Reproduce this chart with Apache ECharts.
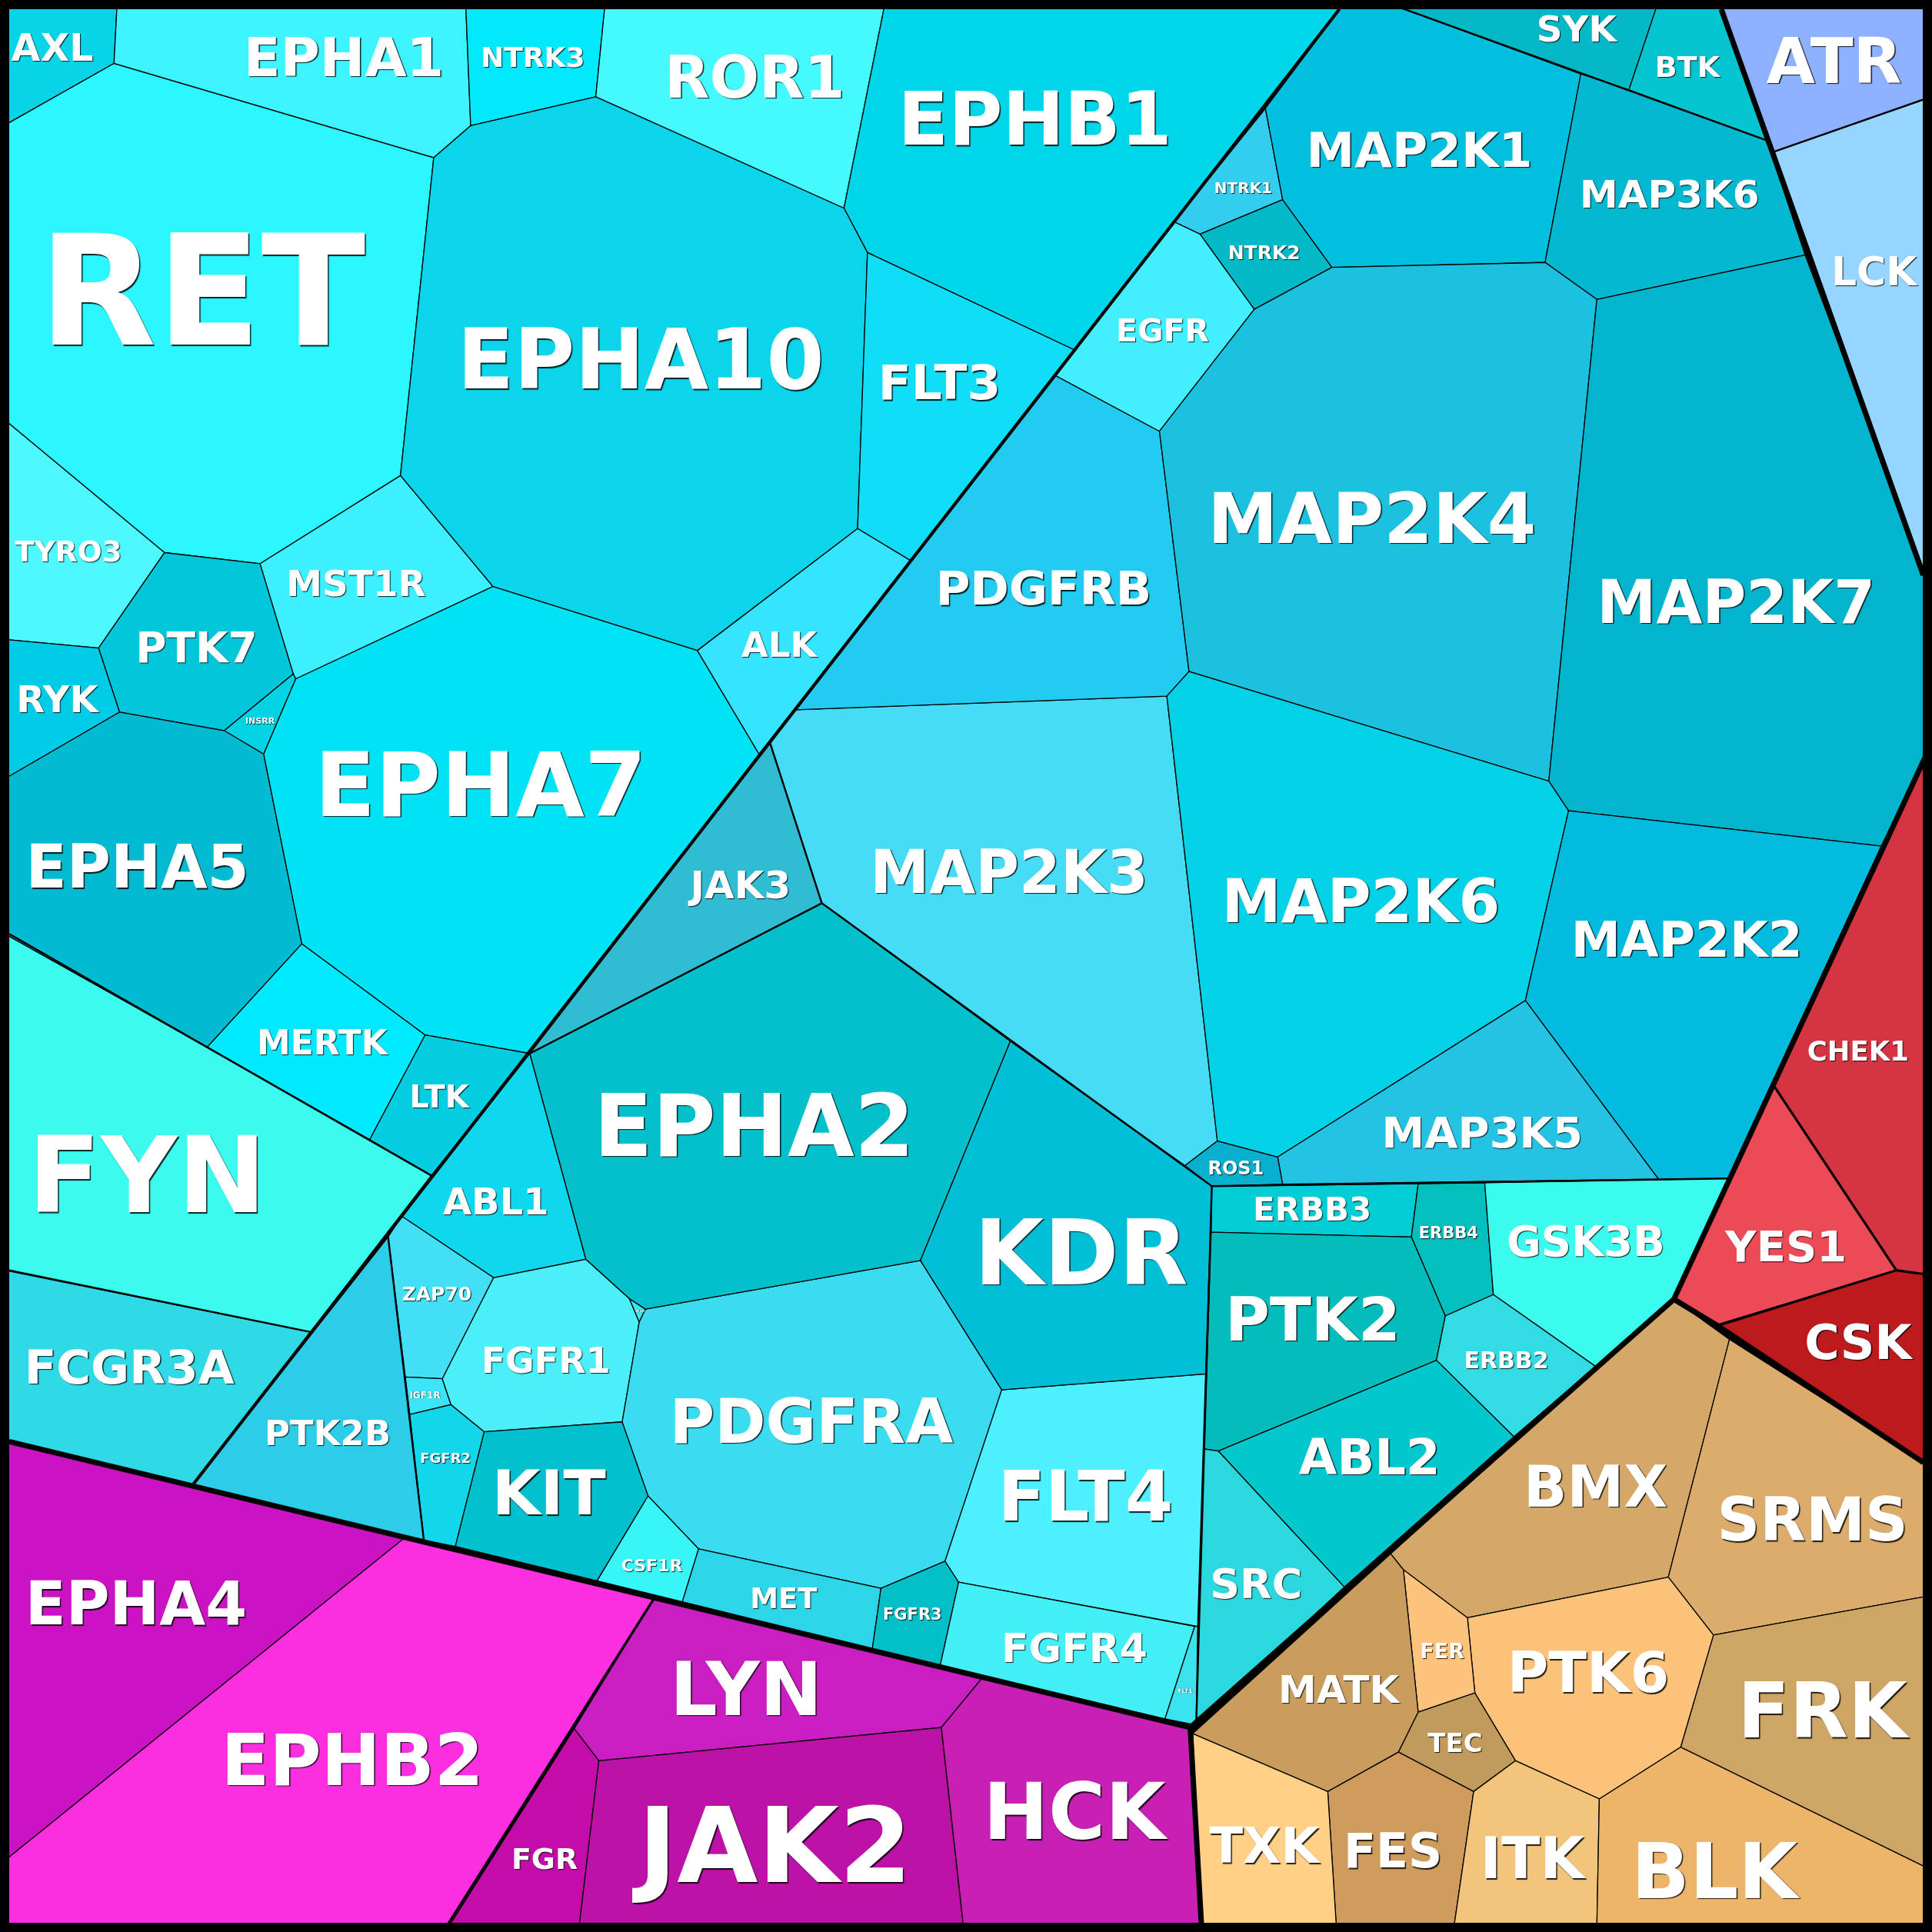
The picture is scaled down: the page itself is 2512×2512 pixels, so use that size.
<!DOCTYPE html>
<html>
<head>
<meta charset="utf-8">
<style>html,body{margin:0;padding:0;background:#000}#chart{width:2512px;height:2512px}</style>
<script src="https://cdn.jsdelivr.net/npm/echarts@6/dist/echarts.min.js"></script>
</head>
<body>
<div id="chart"></div>
<script>
// Cell outlines, in the plot's own 0..1568 data units.
const cellPolygons = [
 ['AXL',[[4,4],[95,4],[92.5,51.5],[4,101.5]]],
 ['EPHA1',[[95,4],[378,4],[382,102],[352,128],[92.5,51.5]]],
 ['NTRK3',[[378,4],[491,4],[483.5,78.6],[382,102]]],
 ['ROR1',[[491,4],[718,4],[685,169],[483.5,78.6]]],
 ['EPHB1',[[718,4],[1090,4],[872,284],[704,205],[685,169]]],
 ['RET',[[4,101.5],[92.5,51.5],[352,128],[325,386],[211,457.5],[133.5,448.5],[4,341]]],
 ['EPHA10',[[352,128],[382,102],[483.5,78.6],[685,169],[704,205],[696,429],[566,528],[400,476],[325,386]]],
 ['FLT3',[[704,205],[872,284],[739,455],[696,429]]],
 ['MST1R',[[211,457.5],[325,386],[400,476],[240,551],[238,547]]],
 ['TYRO3',[[4,341],[133.5,448.5],[80,526],[4,519]]],
 ['PTK7',[[133.5,448.5],[211,457.5],[238,547],[182,593],[97,578],[80,526]]],
 ['INSRR',[[238,547],[240,551],[214,612],[182,593]]],
 ['RYK',[[4,519],[80,526],[97,578],[4,632]]],
 ['EPHA5',[[4,632],[97,578],[182,593],[214,612],[245,766],[168,850],[4,758]]],
 ['EPHA7',[[240,551],[400,476],[566,528],[616,612],[430,855],[345,840],[245,766],[214,612]]],
 ['ALK',[[566,528],[696,429],[739,455],[616,612]]],
 ['MERTK',[[245,766],[345,840],[300,925],[168,850]]],
 ['LTK',[[345,840],[430,855],[350,954],[300,925]]],
 ['FYN',[[4,758],[168,850],[300,925],[350,954],[252,1081],[4,1031]]],
 ['FCGR3A',[[4,1031],[252,1081],[156.5,1205],[4,1168]]],
 ['PTK2B',[[315,1004],[344,1250],[156.5,1205]]],
 ['ABL1',[[430,855],[475.5,1022],[400.6,1037],[326,987]]],
 ['ZAP70',[[326,987],[400.6,1037],[359,1119],[329,1117.5],[315,1004]]],
 ['IGF1R',[[329,1117.5],[359,1119],[366,1140],[332.6,1148]]],
 ['FGFR2',[[332.6,1148],[366,1140],[393,1162],[369.6,1255],[344,1250]]],
 ['FGFR1',[[400.6,1037],[475.5,1022],[510.8,1054],[518.8,1073],[505,1154],[393,1162],[366,1140],[359,1119]]],
 ['INSR',[[510.8,1054],[523.8,1062.5],[518.8,1073]]],
 ['KIT',[[393,1162],[505,1154],[526,1214],[484.6,1283],[369.6,1255]]],
 ['CSF1R',[[526,1214],[567,1257],[553.8,1300],[484.6,1283]]],
 ['PDGFRA',[[518.8,1073],[523.8,1062.5],[747,1023],[813,1128],[767,1267],[715,1289],[567,1257],[526,1214],[505,1154]]],
 ['MET',[[567,1257],[715,1289],[708,1338],[553.8,1300]]],
 ['FGFR3',[[715,1289],[767,1267],[778,1284],[763,1352],[708,1338]]],
 ['FLT4',[[813,1128],[978.4,1115],[972,1320],[778,1284],[767,1267]]],
 ['FGFR4',[[778,1284],[969.6,1320],[945.5,1395],[763,1352]]],
 ['FLT1',[[969.6,1320],[972,1320],[970.8,1400],[945.5,1395]]],
 ['EPHA2',[[430,855],[667,733],[820,845],[747,1023],[523.8,1062.5],[510.8,1054],[475.5,1022]]],
 ['JAK3',[[625,603],[667,733],[430,855]]],
 ['KDR',[[820,845],[983.5,962.7],[978.4,1115],[813,1128],[747,1023]]],
 ['MAP2K3',[[646,576],[947,565],[988,926],[961.7,946],[820,845],[667,733],[625,603]]],
 ['ROS1',[[988,926],[1037,939],[1041,961],[983.5,962.7],[961.7,946]]],
 ['PDGFRB',[[857,305],[941,350],[965,545],[947,565],[646,576]]],
 ['EGFR',[[953,180],[974,190],[1018,251],[941,350],[857,305]]],
 ['NTRK1',[[1027,88],[1041,162],[974,190],[953,180]]],
 ['NTRK2',[[1041,162],[1081,217],[1018,251],[974,190]]],
 ['MAP2K1',[[1090,4],[1130.4,4],[1283,60],[1254,213],[1081,217],[1041,162],[1027,88]]],
 ['SYK',[[1130.4,4],[1345,4],[1322,73],[1283,60]]],
 ['BTK',[[1345,4],[1397,4],[1434,114],[1322,73]]],
 ['MAP3K6',[[1283,60],[1322,73],[1434,114],[1465,207],[1296,243],[1254,213]]],
 ['MAP2K4',[[1081,217],[1254,213],[1296,243],[1257,634],[965,545],[941,350],[1018,251]]],
 ['MAP2K7',[[1296,243],[1465,207],[1564,470],[1564,612],[1526.8,686.7],[1273,658],[1257,634]]],
 ['MAP2K6',[[947,565],[965,545],[1257,634],[1273,658],[1238,812],[1037,939],[988,926]]],
 ['MAP2K2',[[1273,658],[1526.8,686.7],[1402.4,956.4],[1346,957],[1238,812]]],
 ['MAP3K5',[[1238,812],[1346,957],[1041,961],[1037,939]]],
 ['ATR',[[1397,4],[1564,4],[1564,80],[1440,123]]],
 ['LCK',[[1440,123],[1564,80],[1564,470]]],
 ['CHEK1',[[1564,612],[1564,1034],[1539,1031],[1439.5,881]]],
 ['YES1',[[1439.5,881],[1539,1031],[1394,1075],[1358.5,1054.5]]],
 ['CSK',[[1539,1031],[1564,1034],[1564,1189],[1394,1075]]],
 ['ERBB3',[[983.5,962.7],[1151,960.7],[1145.5,1004],[983,1000]]],
 ['ERBB4',[[1151,960.7],[1205,960],[1212,1050.7],[1173,1068],[1145.5,1004]]],
 ['GSK3B',[[1205,960],[1402.4,956.4],[1358.5,1054.5],[1295,1109],[1212,1050.7]]],
 ['PTK2',[[983,1000],[1145.5,1004],[1173,1068],[1165.8,1104],[988.8,1177.7],[977.3,1176]]],
 ['ERBB2',[[1212,1050.7],[1295,1109],[1228.6,1166],[1165.8,1104],[1173,1068]]],
 ['ABL2',[[988.8,1177.7],[1165.8,1104],[1228.6,1166],[1091,1288]]],
 ['SRC',[[977.3,1176],[988.8,1177.7],[1091,1288],[970.8,1400]]],
 ['BMX',[[1358.5,1054.5],[1403.6,1087],[1354,1280],[1191,1313],[1139,1274],[1128.6,1261]]],
 ['SRMS',[[1403.6,1087],[1564,1189],[1564,1295.5],[1390.6,1327],[1354,1280]]],
 ['FRK',[[1390.6,1327],[1564,1295.5],[1564,1516],[1364,1418]]],
 ['PTK6',[[1191,1313],[1354,1280],[1390.6,1327],[1364,1418],[1298,1460],[1230,1429],[1197,1374]]],
 ['FER',[[1139,1274],[1191,1313],[1197,1374],[1151,1389.6]]],
 ['MATK',[[1128.6,1261],[1139,1274],[1151,1389.6],[1135,1422],[1077.6,1454],[968,1407]]],
 ['TEC',[[1151,1389.6],[1197,1374],[1230,1429],[1196,1454],[1135,1422]]],
 ['FES',[[1135,1422],[1196,1454],[1180,1564],[1084.6,1564],[1077.6,1454]]],
 ['TXK',[[968,1407],[1077.6,1454],[1084.6,1564],[975,1564]]],
 ['ITK',[[1196,1454],[1230,1429],[1298,1460],[1296,1564],[1180,1564]]],
 ['BLK',[[1298,1460],[1364,1418],[1564,1516],[1564,1564],[1296,1564]]],
 ['EPHA4',[[4,1168],[328.5,1248],[4,1510]]],
 ['EPHB2',[[328.5,1248],[531,1297],[364,1564],[4,1564],[4,1510]]],
 ['LYN',[[531,1297],[797,1362],[764,1402],[486,1429],[466,1403]]],
 ['FGR',[[466,1403],[486,1429],[470,1564],[364,1564]]],
 ['JAK2',[[486,1429],[764,1402],[782,1564],[470,1564]]],
 ['HCK',[[797,1362],[966,1402],[975,1564],[782,1564],[764,1402]]]
];

const cellColors = {
 AXL:'#08D4E8',EPHA1:'#3BF4FF',NTRK3:'#00E8FB',ROR1:'#45FAFF',EPHB1:'#00D6E9',RET:'#2AF7FF',EPHA10:'#0AD5EA',FLT3:'#10DEF7',
 MST1R:'#3CF0FF',TYRO3:'#4DF9FF',PTK7:'#02C6DA',INSRR:'#02D4E6',RYK:'#00CCE8',EPHA5:'#03BBD0',EPHA7:'#00E3F5',ALK:'#35E4FF',
 MERTK:'#00EAFF',LTK:'#03CDE0',FYN:'#3CFAEE',FCGR3A:'#2FD9E5',PTK2B:'#2CCDE8',ABL1:'#0FD8EE',ZAP70:'#43E0F5',IGF1R:'#3BE5F5',
 FGFR2:'#12D7EA',FGFR1:'#4AEFF7',INSR:'#3CE5F0',KIT:'#02C0CD',CSF1R:'#38F5F8',PDGFRA:'#3ADDF0',MET:'#2CD6E8',FGFR3:'#03BFC8',
 FLT4:'#4DF0FF',FGFR4:'#42EFF5',FLT1:'#3BE3EF',EPHA2:'#04C0CB',JAK3:'#30BDD3',KDR:'#02BFD8',MAP2K3:'#47DCF5',ROS1:'#08AFCF',
 PDGFRB:'#22CCF0',EGFR:'#42EFFF',NTRK1:'#33CDF0',NTRK2:'#02B9C8',MAP2K1:'#00BFDF',SYK:'#05B8C5',BTK:'#04C4D0',MAP3K6:'#03B8D0',
 MAP2K4:'#1BC1DE',MAP2K7:'#02B5CD',MAP2K6:'#02D1E7',MAP2K2:'#02BBDE',MAP3K5:'#25C3E3',ATR:'#8DB0FF',LCK:'#95D5FF',CHEK1:'#D53542',
 YES1:'#EB4A56',CSK:'#BC1A1C',ERBB3:'#02CDD5',ERBB4:'#03BFBD',GSK3B:'#3BFBEE',PTK2:'#03BDBD',ERBB2:'#32DCE2',ABL2:'#02C8CE',
 SRC:'#2AD8DD',BMX:'#D4A868',SRMS:'#DBAC6B',FRK:'#CDA564',PTK6:'#FCC27A',FER:'#FDC37C',MATK:'#C89D5E',TEC:'#C19B5B',FES:'#CF9C5E',
 TXK:'#FFD085',ITK:'#F2C47C',BLK:'#ECB56A',EPHA4:'#CA14C4',EPHB2:'#FB2FE0',LYN:'#CB1EC2',FGR:'#C40CA8',JAK2:'#BD12A8',HCK:'#C81FB4'
};

// Label anchor (x, y in data units) and type size in px.
const labelAnchors = {
 AXL:[42.5,38,49],EPHA1:[279,46,70],NTRK3:[432.5,46.5,36],ROR1:[612.5,62,76],EPHB1:[840,96,96],RET:[164,235,199],EPHA10:[520,291,108],
 FLT3:[762.5,310,63],MST1R:[289,473,47],TYRO3:[55.5,447,37.5],PTK7:[159.5,525,55],INSRR:[211,585,11],RYK:[46.5,567,48],EPHA5:[111.5,703,78],
 EPHA7:[390,636,116],ALK:[632.5,523,45],MERTK:[261.5,846,44],LTK:[356.5,890,40],FYN:[119.5,953,138],FCGR3A:[105,1109,61],PTK2B:[266,1163,45],
 ABL1:[402.5,975,48],ZAP70:[354.5,1050,25],IGF1R:[345,1132,12],FGFR2:[361.5,1183.5,18],FGFR1:[443,1104,46],INSR:[519.5,1063.7,4.5],KIT:[445.5,1211,81],
 CSF1R:[529,1270,22],PDGFRA:[658.5,1153,80],MET:[636,1297,37],FGFR3:[740.5,1310,21],FLT4:[881,1214,90],FGFR4:[872,1337,52],FLT1:[962,1372,7.5],
 EPHA2:[612,913,112],JAK3:[601,718,50],KDR:[877.5,1016,117],MAP2K3:[819,707,77.5],ROS1:[1003,948,24],PDGFRB:[847,477,61],EGFR:[943.5,268,41],
 NTRK1:[1009,152,20],NTRK2:[1026,205,25],MAP2K1:[1152,121,63],SYK:[1279.5,23,47],BTK:[1369.5,54,38],MAP3K6:[1355,157,50],MAP2K4:[1113.5,420,91.5],
 MAP2K7:[1409,488,77.5],MAP2K6:[1104.5,731,77.5],MAP2K2:[1369,762,64.5],MAP3K5:[1203,919,56],ATR:[1488.5,49,82],LCK:[1521,220,52],CHEK1:[1508,853,35.5],
 YES1:[1449.5,1011,56],CSK:[1508,1089,62],ERBB3:[1065,981,42],ERBB4:[1175.5,1000,21],GSK3B:[1287,1007,54.5],PTK2:[1065.5,1070,79],ERBB2:[1222.5,1104,30],
 ABL2:[1111.5,1182,64],SRC:[1019.5,1285,54],BMX:[1295,1206,74],SRMS:[1471,1233,77.5],FRK:[1479,1388,99],PTK6:[1289,1357,73],FER:[1170.5,1340,27],
 MATK:[1086.5,1371,50],TEC:[1181,1414.6,34],FES:[1130.5,1502,61.5],TXK:[1026,1497.6,64],ITK:[1243.5,1508,74],BLK:[1391.5,1518,99.5],EPHA4:[110.5,1301,77.5],
 EPHB2:[286,1428,92],LYN:[605.5,1370,97],FGR:[442,1508,38],JAK2:[629,1497,136],HCK:[872,1470,101]
};

// Heavier boundaries between groups of cells.
const majorBoundaries = [
 [[7.5,1170],[966,1402],[975,1561]],
 [[966,1402],[1358.5,1054.5]],
 [[1397,7.5],[1561,467]],
 [[1563.6,612],[1358.5,1054.5],[1394,1076],[1561,1187]]
];
const splitBoundaries = [[[1087,7.5],[156.5,1205]]];
const groupBoundaries = [
 [[531,1297],[364,1561]],
 [[1439.5,881],[1539,1031],[1394,1076]],
 [[1539,1031],[1561,1034]]
];
const familyBoundaries = [
 [[1130.4,4],[1434,114]],
 [[1440,123],[1561,80.7]],
 [[7.5,758],[350,954]],
 [[7.5,1031],[252,1081]],
 [[315,1004],[344,1250]],
 [[625,603],[667,733],[430,855]],
 [[667,733],[983.5,962.7],[970.8,1400]],
 [[983.5,962.7],[1402.4,956.4]]
];
const frameLine = [[[3.75,3.75],[1564.25,3.75],[1564.25,1564.25],[3.75,1564.25],[3.75,3.75]]];

const chart = echarts.init(document.getElementById('chart'), null, {renderer:'canvas'});

function lineSeries(list, width, z) {
  return {
    type:'custom', coordinateSystem:'cartesian2d', silent:true, z:z, clip:false,
    data:list.map((l,i)=>[i]),
    renderItem:(p,api)=>({
      type:'polyline',
      shape:{points:list[api.value(0)].map(v=>api.coord(v))},
      style:{fill:null,stroke:'#000',lineWidth:width,lineJoin:'miter',lineCap:'butt'}
    })
  };
}

chart.setOption({
  animation:false,
  backgroundColor:'#000',
  grid:{left:0,right:0,top:0,bottom:0},
  xAxis:{type:'value',min:0,max:1568,show:false},
  yAxis:{type:'value',min:0,max:1568,inverse:true,show:false},
  series:[
    {
      type:'custom', coordinateSystem:'cartesian2d', silent:true, z:1, clip:false,
      data:cellPolygons.map((c,i)=>[i]),
      renderItem:(p,api)=>{
        const c = cellPolygons[api.value(0)];
        return {
          type:'polygon',
          shape:{points:c[1].map(v=>api.coord(v))},
          style:{fill:cellColors[c[0]],stroke:'#000',lineWidth:1.3,lineJoin:'miter'}
        };
      }
    },
    lineSeries(familyBoundaries,2.4,2),
    lineSeries(groupBoundaries,3.2,3),
    lineSeries(splitBoundaries,4.2,4),
    lineSeries(majorBoundaries,7,5),
    lineSeries(frameLine,12,6),
    {
      type:'custom', coordinateSystem:'cartesian2d', silent:true, z:7, clip:false,
      data:cellPolygons.map((c,i)=>[i]),
      renderItem:(p,api)=>{
        const name = cellPolygons[api.value(0)][0];
        const a = labelAnchors[name];
        const pt = api.coord([a[0],a[1]]);
        const fs = a[2];
        const off = fs>=60 ? 1.5 : (fs>=15 ? 1 : 0.6);
        return {
          type:'text',
          style:{
            text:name, x:pt[0], y:pt[1]+fs*0.1,
            fill:'#fff',
            font:'bold '+fs+'px "DejaVu Sans"',
            align:'center', verticalAlign:'middle',
            textShadowColor:'rgba(0,0,0,0.85)', textShadowBlur:1,
            textShadowOffsetX:off, textShadowOffsetY:off
          }
        };
      }
    }
  ]
});
</script>
</body>
</html>
